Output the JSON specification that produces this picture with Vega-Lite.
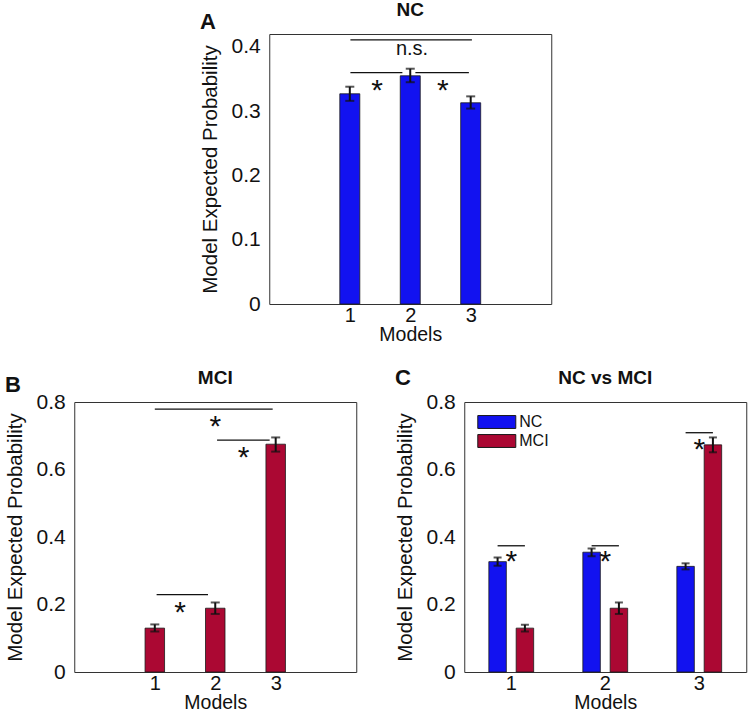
{
  "$schema": "https://vega.github.io/schema/vega-lite/v6.json",
  "padding": {"left": 4, "top": 0, "right": 2, "bottom": 0},
  "config": {
    "font": "Liberation Sans",
    "view": {"stroke": "#333", "strokeWidth": 1},
    "axis": {"domain": false, "ticks": false, "grid": false, "labelFontSize": 21, "titleFontSize": 20.5, "titleFontWeight": "normal", "labelColor": "#111", "titleColor": "#111"},
    "axisX": {"labelPadding": 1, "titlePadding": 0, "labelFontSize": 20, "titleFontSize": 19.5},
    "axisY": {"labelPadding": 9, "titlePadding": 11},
    "title": {"fontSize": 22, "fontWeight": "bold", "anchor": "start", "frame": "bounds", "color": "#111"}
  },
  "datasets": {
    "nc": [{"model": 1, "value": 0.327, "lo": 0.316, "hi": 0.338}, {"model": 2, "value": 0.355, "lo": 0.345, "hi": 0.366}, {"model": 3, "value": 0.313, "lo": 0.304, "hi": 0.323}],
    "mci": [{"model": 1, "value": 0.130, "lo": 0.120, "hi": 0.141}, {"model": 2, "value": 0.189, "lo": 0.172, "hi": 0.206}, {"model": 3, "value": 0.675, "lo": 0.653, "hi": 0.695}],
    "both": [
      {"model": 1, "group": "NC", "value": 0.327, "lo": 0.315, "hi": 0.339}, {"model": 2, "group": "NC", "value": 0.355, "lo": 0.343, "hi": 0.366}, {"model": 3, "group": "NC", "value": 0.313, "lo": 0.304, "hi": 0.322},
      {"model": 1, "group": "MCI", "value": 0.130, "lo": 0.120, "hi": 0.140}, {"model": 2, "group": "MCI", "value": 0.189, "lo": 0.172, "hi": 0.206}, {"model": 3, "group": "MCI", "value": 0.673, "lo": 0.651, "hi": 0.695}
    ],
    "a_lines": [{"x": 1.01, "x2": 3.02, "y": 0.411}, {"x": 1.01, "x2": 1.87, "y": 0.36}, {"x": 2.085, "x2": 2.97, "y": 0.36}],
    "a_stars": [{"x": 1.45, "y": 0.339, "label": "*"}, {"x": 2.54, "y": 0.339, "label": "*"}],
    "a_ns": [{"x": 2.03, "y": 0.397, "label": "n.s."}],
    "b_lines": [{"x": 1.0, "x2": 2.95, "y": 0.779}, {"x": 2.03, "x2": 2.9, "y": 0.687}, {"x": 1.03, "x2": 1.88, "y": 0.229}],
    "b_stars": [{"x": 2.0, "y": 0.741, "label": "*"}, {"x": 2.47, "y": 0.65, "label": "*"}, {"x": 1.42, "y": 0.189, "label": "*"}],
    "c_lines": [
      {"model": 1, "group": "NC", "y": 0.374, "pair": 1}, {"model": 1, "group": "MCI", "y": 0.374, "pair": 1},
      {"model": 2, "group": "NC", "y": 0.374, "pair": 2}, {"model": 2, "group": "MCI", "y": 0.374, "pair": 2},
      {"model": 3, "group": "NC", "y": 0.709, "pair": 3}, {"model": 3, "group": "MCI", "y": 0.709, "pair": 3}
    ],
    "c_stars": [{"model": 1, "y": 0.342, "label": "*"}, {"model": 2, "y": 0.342, "label": "*"}, {"model": 3, "y": 0.673, "label": "*"}],
    "c_name": [{"model": 2, "y": 0.872, "label": "NC vs MCI"}],
    "one": [{}]
  },
  "spacing": 22,
  "center": true,
  "resolve": {"legend": {"color": "independent"}},
  "vconcat": [
    {
      "width": 282,
      "height": 270,
      "title": {"text": "A", "offset": -33.5},
      "layer": [
        {
          "data": {"name": "nc"},
          "mark": {"type": "bar", "width": 20, "color": "#1212f0", "stroke": "#1a1a1a", "strokeWidth": 0.8},
          "encoding": {
            "x": {"field": "model", "type": "quantitative", "title": "Models", "scale": {"domain": [-0.25, 4.25], "nice": false}, "axis": {"values": [1, 2, 3], "format": "d"}},
            "y": {"field": "value", "type": "quantitative", "title": "Model Expected Probability", "scale": {"domain": [0, 0.42], "nice": false}, "axis": {"values": [0, 0.1, 0.2, 0.3, 0.4], "labelExpr": "datum.value == 0 ? '0' : format(datum.value, '.1f')"}}
          }
        },
        {
          "data": {"name": "nc"},
          "mark": {"type": "rule", "color": "#111", "strokeWidth": 2},
          "encoding": {"x": {"field": "model", "type": "quantitative", "title": "Models"}, "y": {"field": "lo", "type": "quantitative", "title": "Model Expected Probability"}, "y2": {"field": "hi"}}
        },
        {
          "data": {"name": "nc"},
          "mark": {"type": "tick", "orient": "horizontal", "size": 9, "thickness": 2, "color": "#111"},
          "encoding": {"x": {"field": "model", "type": "quantitative", "title": "Models"}, "y": {"field": "lo", "type": "quantitative", "title": "Model Expected Probability"}}
        },
        {
          "data": {"name": "nc"},
          "mark": {"type": "tick", "orient": "horizontal", "size": 9, "thickness": 2, "color": "#111"},
          "encoding": {"x": {"field": "model", "type": "quantitative", "title": "Models"}, "y": {"field": "hi", "type": "quantitative", "title": "Model Expected Probability"}}
        },
        {
          "data": {"name": "a_lines"},
          "mark": {"type": "rule", "color": "#111", "strokeWidth": 1.3},
          "encoding": {"x": {"field": "x", "type": "quantitative", "title": "Models"}, "x2": {"field": "x2"}, "y": {"field": "y", "type": "quantitative", "title": "Model Expected Probability"}}
        },
        {
          "data": {"name": "a_stars"},
          "mark": {"type": "text", "fontSize": 30, "baseline": "middle", "dy": 5, "color": "#111"},
          "encoding": {"x": {"field": "x", "type": "quantitative", "title": "Models"}, "y": {"field": "y", "type": "quantitative", "title": "Model Expected Probability"}, "text": {"field": "label"}}
        },
        {
          "data": {"name": "a_ns"},
          "mark": {"type": "text", "fontSize": 20, "baseline": "middle", "color": "#111"},
          "encoding": {"x": {"field": "x", "type": "quantitative", "title": "Models"}, "y": {"field": "y", "type": "quantitative", "title": "Model Expected Probability"}, "text": {"field": "label"}}
        },
        {
          "data": {"name": "one"},
          "mark": {"type": "text", "fontSize": 19, "fontWeight": "bold", "baseline": "middle", "color": "#111"},
          "encoding": {"x": {"datum": 2, "type": "quantitative", "title": "Models"}, "y": {"datum": 0.458, "type": "quantitative", "title": "Model Expected Probability"}, "text": {"value": "NC"}}
        }
      ]
    },
    {
      "spacing": 37,
      "resolve": {"legend": {"color": "independent"}},
      "hconcat": [
        {
          "width": 282,
          "height": 270,
          "title": {"text": "B", "offset": -28.5},
          "layer": [
            {
              "data": {"name": "mci"},
              "mark": {"type": "bar", "width": 19.5, "color": "#ab0833", "stroke": "#1a1a1a", "strokeWidth": 0.8},
              "encoding": {
                "x": {"field": "model", "type": "quantitative", "title": "Models", "scale": {"domain": [-0.25, 4.25], "nice": false}, "axis": {"values": [1, 2, 3], "format": "d"}},
                "y": {"field": "value", "type": "quantitative", "title": "Model Expected Probability", "scale": {"domain": [0, 0.8], "nice": false}, "axis": {"values": [0, 0.2, 0.4, 0.6, 0.8], "labelExpr": "datum.value == 0 ? '0' : format(datum.value, '.1f')"}}
              }
            },
            {
              "data": {"name": "mci"},
              "mark": {"type": "rule", "color": "#111", "strokeWidth": 2},
              "encoding": {"x": {"field": "model", "type": "quantitative", "title": "Models"}, "y": {"field": "lo", "type": "quantitative", "title": "Model Expected Probability"}, "y2": {"field": "hi"}}
            },
            {
              "data": {"name": "mci"},
              "mark": {"type": "tick", "orient": "horizontal", "size": 9, "thickness": 2, "color": "#111"},
              "encoding": {"x": {"field": "model", "type": "quantitative", "title": "Models"}, "y": {"field": "lo", "type": "quantitative", "title": "Model Expected Probability"}}
            },
            {
              "data": {"name": "mci"},
              "mark": {"type": "tick", "orient": "horizontal", "size": 9, "thickness": 2, "color": "#111"},
              "encoding": {"x": {"field": "model", "type": "quantitative", "title": "Models"}, "y": {"field": "hi", "type": "quantitative", "title": "Model Expected Probability"}}
            },
            {
              "data": {"name": "b_lines"},
              "mark": {"type": "rule", "color": "#111", "strokeWidth": 1.3},
              "encoding": {"x": {"field": "x", "type": "quantitative", "title": "Models"}, "x2": {"field": "x2"}, "y": {"field": "y", "type": "quantitative", "title": "Model Expected Probability"}}
            },
            {
              "data": {"name": "b_stars"},
              "mark": {"type": "text", "fontSize": 30, "baseline": "middle", "dy": 5, "color": "#111"},
              "encoding": {"x": {"field": "x", "type": "quantitative", "title": "Models"}, "y": {"field": "y", "type": "quantitative", "title": "Model Expected Probability"}, "text": {"field": "label"}}
            },
            {
              "data": {"name": "one"},
              "mark": {"type": "text", "fontSize": 19, "fontWeight": "bold", "baseline": "middle", "color": "#111"},
              "encoding": {"x": {"datum": 2, "type": "quantitative", "title": "Models"}, "y": {"datum": 0.872, "type": "quantitative", "title": "Model Expected Probability"}, "text": {"value": "MCI"}}
            }
          ]
        },
        {
          "width": 282,
          "height": 270,
          "title": {"text": "C", "offset": -21.5},
          "layer": [
            {
              "data": {"name": "both"},
              "mark": {"type": "bar", "stroke": "#1a1a1a", "strokeWidth": 0.8},
              "encoding": {
                "x": {"field": "model", "type": "ordinal", "title": "Models", "scale": {"paddingInner": 0, "paddingOuter": 0}, "axis": {"labelAngle": 0}},
                "xOffset": {"field": "group", "type": "nominal", "scale": {"domain": ["NC", "MCI"], "paddingInner": 0.36, "paddingOuter": 0.9}},
                "y": {"field": "value", "type": "quantitative", "title": "Model Expected Probability", "scale": {"domain": [0, 0.8], "nice": false}, "axis": {"values": [0, 0.2, 0.4, 0.6, 0.8], "labelExpr": "datum.value == 0 ? '0' : format(datum.value, '.1f')"}},
                "color": {"field": "group", "type": "nominal", "scale": {"domain": ["NC", "MCI"], "range": ["#1212f0", "#ab0833"]},
                  "legend": {"orient": "top-left", "title": null, "offset": 10, "padding": 0, "rowPadding": 0, "symbolType": "M-0.68,-0.68L3.32,-0.68L3.32,0.68L-0.68,0.68Z", "symbolSize": 361, "symbolStrokeColor": "#1a1a1a", "symbolStrokeWidth": 1, "labelFontSize": 16, "labelOffset": 25, "labelColor": "#111"}}
              }
            },
            {
              "data": {"name": "both"},
              "mark": {"type": "rule", "color": "#111", "strokeWidth": 2},
              "encoding": {
                "x": {"field": "model", "type": "ordinal", "title": "Models"},
                "xOffset": {"field": "group", "type": "nominal"},
                "y": {"field": "lo", "type": "quantitative", "title": "Model Expected Probability"},
                "y2": {"field": "hi"}
              }
            },
            {
              "data": {"name": "both"},
              "mark": {"type": "tick", "orient": "horizontal", "size": 8, "thickness": 2, "color": "#111"},
              "encoding": {
                "x": {"field": "model", "type": "ordinal", "title": "Models"},
                "xOffset": {"field": "group", "type": "nominal"},
                "y": {"field": "lo", "type": "quantitative", "title": "Model Expected Probability"}
              }
            },
            {
              "data": {"name": "both"},
              "mark": {"type": "tick", "orient": "horizontal", "size": 8, "thickness": 2, "color": "#111"},
              "encoding": {
                "x": {"field": "model", "type": "ordinal", "title": "Models"},
                "xOffset": {"field": "group", "type": "nominal"},
                "y": {"field": "hi", "type": "quantitative", "title": "Model Expected Probability"}
              }
            },
            {
              "data": {"name": "c_lines"},
              "mark": {"type": "line", "color": "#111", "strokeWidth": 1.3},
              "encoding": {
                "x": {"field": "model", "type": "ordinal", "title": "Models"},
                "xOffset": {"field": "group", "type": "nominal"},
                "y": {"field": "y", "type": "quantitative", "title": "Model Expected Probability"},
                "detail": {"field": "pair"}
              }
            },
            {
              "data": {"name": "c_stars"},
              "mark": {"type": "text", "fontSize": 30, "baseline": "middle", "dy": 5, "color": "#111"},
              "encoding": {"x": {"field": "model", "type": "ordinal", "title": "Models"}, "y": {"field": "y", "type": "quantitative", "title": "Model Expected Probability"}, "text": {"field": "label"}}
            },
            {
              "data": {"name": "c_name"},
              "mark": {"type": "text", "fontSize": 19, "fontWeight": "bold", "baseline": "middle", "color": "#111"},
              "encoding": {"x": {"field": "model", "type": "ordinal", "title": "Models"}, "y": {"field": "y", "type": "quantitative", "title": "Model Expected Probability"}, "text": {"field": "label"}}
            }
          ]
        }
      ]
    }
  ]
}
